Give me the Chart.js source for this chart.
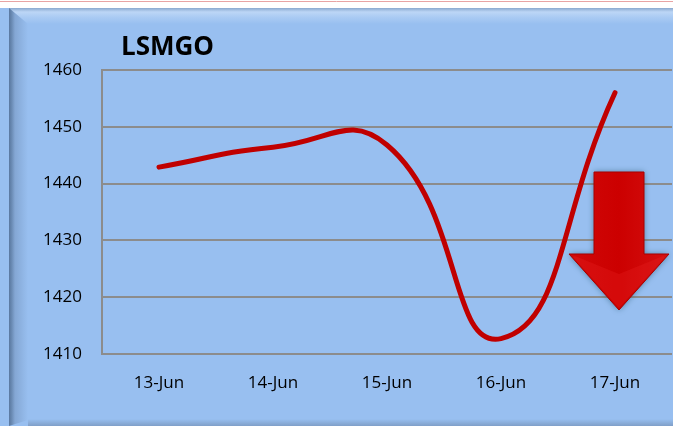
<!DOCTYPE html>
<html>
<head>
<meta charset="utf-8">
<script src="https://cdn.jsdelivr.net/npm/chart.js@4/dist/chart.umd.min.js"></script>
<style>
html,body{margin:0;padding:0;background:#fff;}
#wrap{width:673px;height:426px;position:relative;}
canvas{display:block;}
</style>
</head>
<body>
<div id="wrap"><canvas id="c" width="673" height="426"></canvas></div>
<script>
const chartTitle = "LSMGO";
const categories = ["13-Jun", "14-Jun", "15-Jun", "16-Jun", "17-Jun"];
const lsmgoValues = [1442.9, 1446.4, 1446.8, 1412.7, 1456.0];
const yTicks = [1410, 1420, 1430, 1440, 1450, 1460];

const FONT = "'Open Sans', 'Liberation Sans', sans-serif";

const backgroundPlugin = {
  id: 'bg',
  beforeDraw(chart) {
    const ctx = chart.ctx;
    const W = chart.width, H = chart.height;
    ctx.save();
    ctx.fillStyle = '#ffffff';
    ctx.fillRect(0, 0, W, H);
    ctx.strokeStyle = '#e8a4a4';
    ctx.lineWidth = 1;
    ctx.beginPath();
    ctx.moveTo(0, 1.5); ctx.lineTo(W, 1.5);
    ctx.stroke();
    ctx.fillStyle = '#98bff0';
    ctx.fillRect(0, 8, W, H - 8);
    let g = ctx.createLinearGradient(0, 8, 0, 24);
    g.addColorStop(0, '#8aa9cf');
    g.addColorStop(0.25, '#bcd6f6');
    g.addColorStop(0.6, '#a9caf3');
    g.addColorStop(1, '#98bff0');
    ctx.fillStyle = g;
    ctx.fillRect(9, 8, W - 9, 16);
    g = ctx.createLinearGradient(8, 0, 28, 0);
    g.addColorStop(0, '#55729a');
    g.addColorStop(0.15, '#6585ad');
    g.addColorStop(0.35, '#84a7d4');
    g.addColorStop(1, '#98bff0');
    ctx.fillStyle = g;
    ctx.beginPath();
    ctx.moveTo(9, 8); ctx.lineTo(28, 24); ctx.lineTo(28, H - 6); ctx.lineTo(9, H); ctx.closePath();
    ctx.fill();
    g = ctx.createLinearGradient(0, H - 7, 0, H);
    g.addColorStop(0, '#98bff0');
    g.addColorStop(1, '#7f9fc8');
    ctx.fillStyle = g;
    ctx.fillRect(28, H - 7, W - 28, 7);
    ctx.restore();
  },
  afterDraw(chart) {
    const ctx = chart.ctx;
    ctx.save();
    ctx.fillStyle = '#000000';
    ctx.font = "bold 26px " + FONT;
    ctx.textBaseline = 'middle';
    ctx.textAlign = 'left';
    ctx.fillText(chartTitle, 121, 48);
    const x0 = 569, x1 = 669, sx0 = 594, sx1 = 644, top = 172, hy = 254, tipY = 310, tipX = 619;
    ctx.shadowColor = 'rgba(30,80,100,0.6)';
    ctx.shadowBlur = 6;
    let g = ctx.createLinearGradient(x0, 0, x1, 0);
    g.addColorStop(0, '#d00808');
    g.addColorStop(0.5, '#cc0000');
    g.addColorStop(1, '#d41010');
    ctx.fillStyle = g;
    ctx.beginPath();
    ctx.moveTo(sx0, top); ctx.lineTo(sx1, top); ctx.lineTo(sx1, hy);
    ctx.lineTo(x1, hy); ctx.lineTo(tipX, tipY); ctx.lineTo(x0, hy);
    ctx.lineTo(sx0, hy); ctx.closePath();
    ctx.fill();
    ctx.shadowBlur = 0;
    ctx.shadowColor = 'transparent';
    ctx.strokeStyle = '#a80000';
    ctx.lineWidth = 1;
    ctx.stroke();
    ctx.fillStyle = 'rgba(240,40,40,0.25)';
    ctx.beginPath();
    ctx.moveTo(x0 + 6, hy + 2); ctx.lineTo(tipX, hy + 20); ctx.lineTo(x1 - 6, hy + 2);
    ctx.lineTo(x1 - 4, hy + 3); ctx.lineTo(tipX, tipY - 2); ctx.lineTo(x0 + 4, hy + 3); ctx.closePath();
    ctx.fill();
    ctx.restore();
  }
};

new Chart(document.getElementById('c'), {
  type: 'line',
  data: {
    labels: categories,
    datasets: [{
      label: chartTitle,
      data: lsmgoValues,
      borderColor: '#c00000',
      borderWidth: 5,
      borderCapStyle: 'round',
      pointRadius: 0,
      tension: 0.5,
      fill: false
    }]
  },
  options: {
    responsive: false,
    animation: false,
    devicePixelRatio: 1,
    layout: { padding: { top: 70, right: 1, bottom: 0, left: 0 } },
    plugins: {
      legend: { display: false },
      tooltip: { enabled: false },
      title: { display: false }
    },
    scales: {
      x: {
        offset: true,
        grid: { display: false, drawTicks: false },
        border: { display: false },
        ticks: { color: '#000', font: { family: FONT, size: 17 }, padding: 19, maxRotation: 0 },
        afterFit(s) { s.height = 72; }
      },
      y: {
        min: 1410, max: 1460,
        afterBuildTicks(s) { s.ticks = yTicks.map(v => ({ value: v })); },
        grid: { color: '#8c8c8c', lineWidth: 2, drawTicks: false },
        border: { display: true, color: '#8c8c8c', width: 2 },
        ticks: { color: '#000', font: { family: FONT, size: 17 }, padding: 20, callback: v => String(v) },
        afterFit(s) { s.width = 102; }
      }
    }
  },
  plugins: [backgroundPlugin]
});
</script>
</body>
</html>
